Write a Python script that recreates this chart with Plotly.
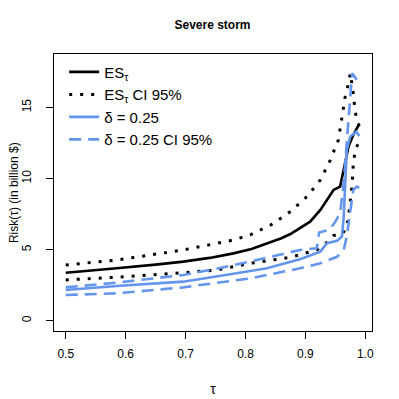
import plotly.graph_objects as go

# tau grid points and values (billion $)
es_x = [0.50, 0.55, 0.585, 0.65, 0.696, 0.74, 0.78, 0.81, 0.836, 0.86, 0.875, 0.891,
        0.908, 0.925, 0.94, 0.947, 0.958, 0.964, 0.972, 0.980, 0.99]
es_y = [3.38, 3.55, 3.69, 3.95, 4.16, 4.42, 4.74, 5.05, 5.45, 5.8, 6.1, 6.5,
        6.97, 7.8, 8.7, 9.2, 9.44, 10.6, 12.25, 13.08, 13.85]

es_hi_x = [0.50, 0.585, 0.696, 0.78, 0.808, 0.845, 0.875, 0.891, 0.9025, 0.925, 0.9415,
           0.955, 0.961, 0.9666, 0.972, 0.975, 0.98, 0.983, 0.99]
es_hi_y = [3.92, 4.27, 4.98, 5.68, 6.04, 6.8, 7.68, 8.27, 8.73, 9.9, 11.3,
           12.7, 14.25, 15.8, 16.7, 17.4, 16.0, 14.7, 13.6]

es_lo_x = [0.50, 0.585, 0.696, 0.752, 0.808, 0.875, 0.919, 0.936, 0.947, 0.96, 0.969,
           0.972, 0.974, 0.976, 0.978, 0.98, 0.983, 0.99]
es_lo_y = [2.87, 3.06, 3.38, 3.57, 4.04, 4.46, 4.98, 5.5, 6.0, 6.05, 6.5,
           7.3, 8.0, 8.85, 9.56, 11.08, 11.9, 12.7]

d_x = [0.50, 0.585, 0.696, 0.752, 0.78, 0.836, 0.891, 0.925, 0.936, 0.953, 0.961,
       0.964, 0.9666, 0.969, 0.975, 0.985, 0.99]
d_y = [2.16, 2.44, 2.75, 3.1, 3.3, 3.69, 4.33, 4.86, 5.45, 5.63, 5.92,
       7.3, 9.67, 12.0, 12.96, 13.3, 13.0]

d_hi_x = [0.50, 0.585, 0.696, 0.741, 0.808, 0.891, 0.919, 0.923, 0.94, 0.95, 0.958,
          0.964, 0.969, 0.972, 0.978, 0.99]
d_hi_y = [2.35, 2.68, 3.22, 3.57, 4.16, 4.98, 5.1, 6.2, 6.4, 6.97, 7.56,
          9.7, 12.5, 14.4, 17.4, 16.7]

d_lo_x = [0.50, 0.585, 0.696, 0.808, 0.891, 0.925, 0.953, 0.964, 0.969, 0.975, 0.98,
          0.986, 0.99]
d_lo_y = [1.81, 1.93, 2.35, 2.98, 3.69, 4.04, 4.5, 4.98, 5.92, 7.8, 9.2,
          9.44, 9.35]

BLUE = "#6495ED"
FONT = "Liberation Sans, Arial, Helvetica, sans-serif"
DOT = "3px,8px"
DASH = "12px,7px"

fig = go.Figure()
fig.add_trace(go.Scatter(x=es_x, y=es_y, mode="lines", name="ES<sub>τ</sub>",
                         line=dict(color="black", width=2.6)))
fig.add_trace(go.Scatter(x=es_hi_x, y=es_hi_y, mode="lines", name="ES<sub>τ</sub> CI 95%",
                         line=dict(color="black", width=3, dash=DOT)))
fig.add_trace(go.Scatter(x=es_lo_x, y=es_lo_y, mode="lines", showlegend=False,
                         line=dict(color="black", width=3, dash=DOT)))
fig.add_trace(go.Scatter(x=d_x, y=d_y, mode="lines", name="δ = 0.25",
                         line=dict(color=BLUE, width=2.6)))
fig.add_trace(go.Scatter(x=d_hi_x, y=d_hi_y, mode="lines", name="δ = 0.25 CI 95%",
                         line=dict(color=BLUE, width=2.6, dash=DASH)))
fig.add_trace(go.Scatter(x=d_lo_x, y=d_lo_y, mode="lines", showlegend=False,
                         line=dict(color=BLUE, width=2.6, dash=DASH)))

# the page body keeps its default 8px margin, so the margins below allow for it
fig.update_layout(
    width=399, height=399,
    margin=dict(l=46, r=35, t=46, b=76, autoexpand=False),
    plot_bgcolor="white", paper_bgcolor="white",
    font=dict(family=FONT, size=12, color="black"),
    title=dict(text="<b>Severe storm</b>", x=0.5125, xanchor="center", y=0.957,
               yanchor="middle", font=dict(size=12)),
    legend=dict(x=0.032, y=0.994, xanchor="left", yanchor="top",
                bgcolor="rgba(0,0,0,0)", font=dict(size=15), itemwidth=30),
)
# y-axis title placed as a rotated annotation left of the tick labels
fig.add_annotation(text="Risk(τ) (in billion $)", xref="paper", yref="paper",
                   x=-0.127, y=0.5, xanchor="center", yanchor="middle",
                   textangle=-90, showarrow=False, font=dict(size=12))
fig.update_xaxes(range=[0.4804, 1.0112], tickvals=[0.5, 0.6, 0.7, 0.8, 0.9, 1.0],
                 ticktext=["0.5", "0.6", "0.7", "0.8", "0.9", "1.0"],
                 showgrid=False, zeroline=False, showline=True, mirror=True,
                 linecolor="black", linewidth=1, ticks="outside", ticklen=7,
                 tickcolor="black", ticklabelstandoff=5, automargin=False,
                 title=dict(text="τ", standoff=23))
fig.update_yaxes(range=[-0.72, 18.76], tickvals=[0, 5, 10, 15],
                 showgrid=False, zeroline=False, showline=True, mirror=True,
                 linecolor="black", linewidth=1, ticks="outside", ticklen=7,
                 tickcolor="black", tickangle=-90, ticklabelstandoff=10,
                 automargin=False)

fig.write_html("out.html")
